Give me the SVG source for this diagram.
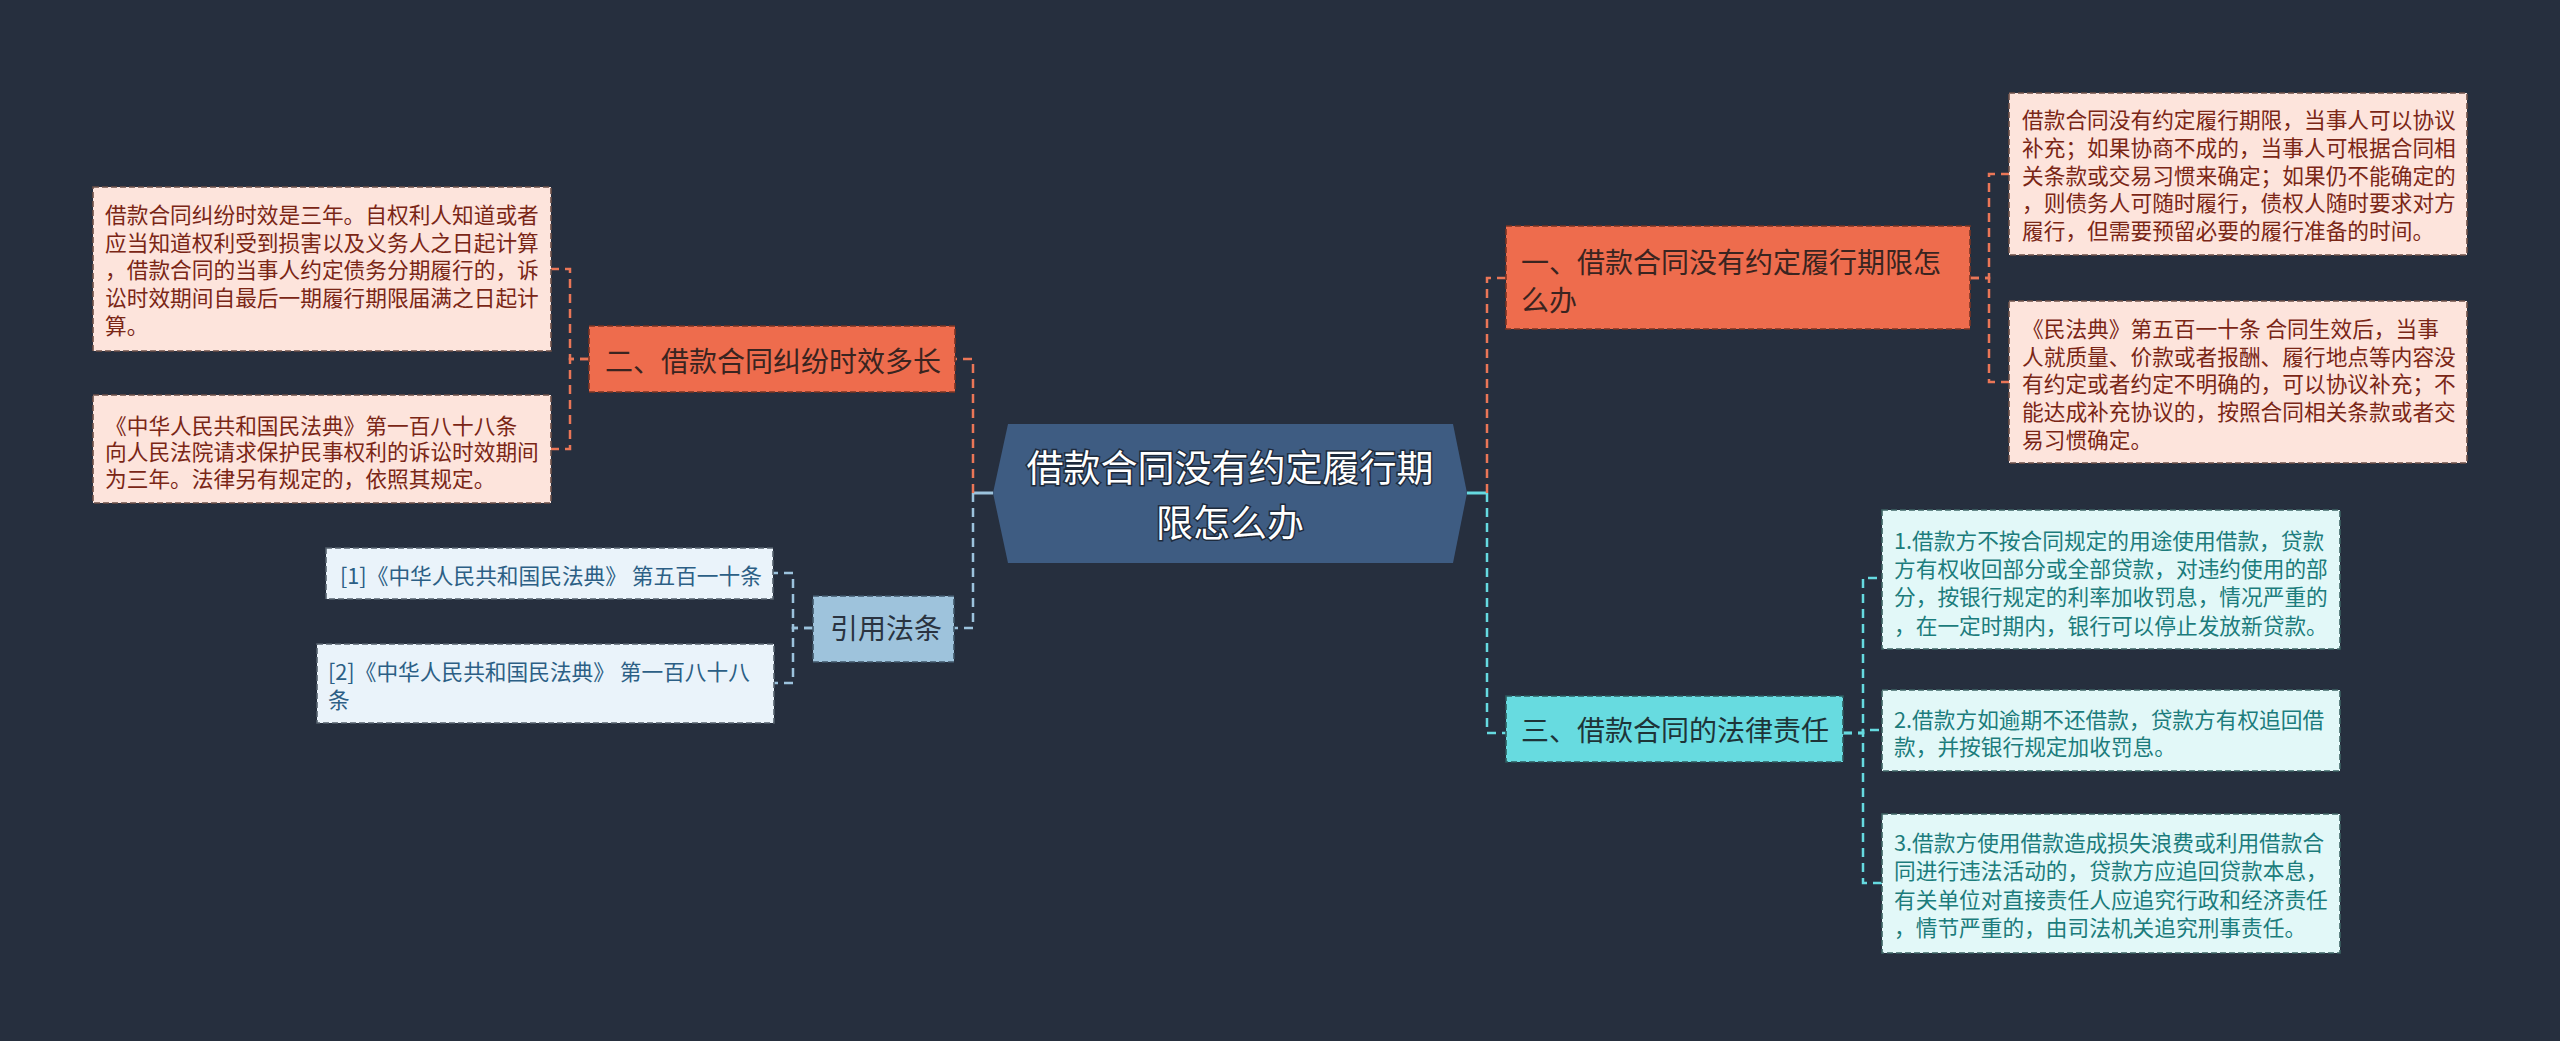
<svg xmlns="http://www.w3.org/2000/svg" width="2560" height="1041" viewBox="0 0 2560 1041">
<style>
text{font-family:"Noto Sans CJK SC","Noto Sans",sans-serif}
.leaf{font-size:21.7px}
.br{font-size:28px}
.bd{stroke-width:1.6;stroke-dasharray:6 3}
.c{fill:none;stroke-width:2.5;stroke-dasharray:9 6}
.or{stroke:#ea7657}
.lb{stroke:#9cc3dd}
.cy{stroke:#66dae0}
.pinkbox{fill:#fde4dc;stroke:#6e5048}
.pinktx{fill:#7a2616}
.orbox{fill:#ee6c4d;stroke:#7a3423}
.blbox{fill:#eaf3fa;stroke:#55626e}
.bltx{fill:#2c5f85}
.cybox{fill:#e2f8f8;stroke:#3e6464}
.cytx{fill:#1c7c7c}
</style>
<rect width="2560" height="1041" fill="#262f3e"/>
<g id="connectors">
<path d="M993,493 H973" stroke="#9cc3dd" stroke-width="3" fill="none"/>
<path class="c or" d="M973,493 V359 H955"/>
<path class="c lb" d="M973,493 V628 H954"/>
<path class="c or" d="M589,359 H570 V269 H551"/>
<path class="c or" d="M589,359 H570 V449 H551"/>
<path class="c lb" d="M813,628 H793 V573 H773"/>
<path class="c lb" d="M813,628 H793 V683 H774"/>
<path d="M1467,493 H1487" stroke="#66dae0" stroke-width="3" fill="none"/>
<path class="c or" d="M1487,493 V278 H1506"/>
<path class="c cy" d="M1487,493 V733 H1506"/>
<path class="c or" d="M1970,278 H1989 V174 H2009"/>
<path class="c or" d="M1970,278 H1989 V382 H2009"/>
<path class="c cy" d="M1843,733 H1863 V578 H1882"/>
<path class="c cy" d="M1843,733 H1863 V730 H1882"/>
<path class="c cy" d="M1843,733 H1863 V883 H1882"/>
</g>
<g id="root">
<polygon points="993,493 1008,424 1453,424 1467,493 1453,563 1008,563" fill="#3e5c82"/>
<text x="1230" y="482" font-size="37" text-anchor="middle" fill="#ffffff" stroke="#1e2b3c" stroke-width="3" paint-order="stroke">借款合同没有约定履行期</text>
<text x="1230" y="537" font-size="37" text-anchor="middle" fill="#ffffff" stroke="#1e2b3c" stroke-width="3" paint-order="stroke">限怎么办</text>
</g>
<g id="n1">
<rect class="orbox bd" x="1506" y="226" width="464" height="103"/>
<text class="br" x="1521" y="273" fill="#3a2420">一、借款合同没有约定履行期限怎</text>
<text class="br" x="1521" y="311" fill="#3a2420">么办</text>
</g>
<g id="n1a">
<rect class="pinkbox bd" x="2009" y="93" width="458" height="162"/>
<text class="leaf pinktx" x="2022" y="128">借款合同没有约定履行期限，当事人可以协议</text>
<text class="leaf pinktx" x="2022" y="156">补充；如果协商不成的，当事人可根据合同相</text>
<text class="leaf pinktx" x="2022" y="184">关条款或交易习惯来确定；如果仍不能确定的</text>
<text class="leaf pinktx" x="2022" y="211">，则债务人可随时履行，债权人随时要求对方</text>
<text class="leaf pinktx" x="2022" y="239">履行，但需要预留必要的履行准备的时间。</text>
</g>
<g id="n1b">
<rect class="pinkbox bd" x="2009" y="301" width="458" height="162"/>
<text class="leaf pinktx" x="2022" y="337">《民法典》第五百一十条 合同生效后，当事</text>
<text class="leaf pinktx" x="2022" y="365">人就质量、价款或者报酬、履行地点等内容没</text>
<text class="leaf pinktx" x="2022" y="392">有约定或者约定不明确的，可以协议补充；不</text>
<text class="leaf pinktx" x="2022" y="420">能达成补充协议的，按照合同相关条款或者交</text>
<text class="leaf pinktx" x="2022" y="448">易习惯确定。</text>
</g>
<g id="n2">
<rect class="orbox bd" x="589" y="326" width="366" height="66"/>
<text class="br" x="605" y="372" fill="#3a2420">二、借款合同纠纷时效多长</text>
</g>
<g id="n2a">
<rect class="pinkbox bd" x="93" y="187" width="458" height="164"/>
<text class="leaf pinktx" x="105" y="223">借款合同纠纷时效是三年。自权利人知道或者</text>
<text class="leaf pinktx" x="105" y="251">应当知道权利受到损害以及义务人之日起计算</text>
<text class="leaf pinktx" x="105" y="278">，借款合同的当事人约定债务分期履行的，诉</text>
<text class="leaf pinktx" x="105" y="306">讼时效期间自最后一期履行期限届满之日起计</text>
<text class="leaf pinktx" x="105" y="334">算。</text>
</g>
<g id="n2b">
<rect class="pinkbox bd" x="93" y="395" width="458" height="108"/>
<text class="leaf pinktx" x="105" y="434">《中华人民共和国民法典》第一百八十八条</text>
<text class="leaf pinktx" x="105" y="460">向人民法院请求保护民事权利的诉讼时效期间</text>
<text class="leaf pinktx" x="105" y="487">为三年。法律另有规定的，依照其规定。</text>
</g>
<g id="n3">
<rect class="bd" x="813" y="596" width="141" height="66" fill="#9ec3dc" stroke="#3f5668"/>
<text class="br" x="830" y="639" font-size="27" fill="#2a3340">引用法条</text>
</g>
<g id="n3a">
<rect class="blbox bd" x="326" y="548" width="447" height="51"/>
<text class="leaf bltx" x="340" y="584">[1]《中华人民共和国民法典》 第五百一十条</text>
</g>
<g id="n3b">
<rect class="blbox bd" x="317" y="644" width="457" height="79"/>
<text class="leaf bltx" x="328" y="680">[2]《中华人民共和国民法典》 第一百八十八</text>
<text class="leaf bltx" x="328" y="708">条</text>
</g>
<g id="n4">
<rect class="bd" x="1506" y="696" width="337" height="66" fill="#67dbe0" stroke="#2d5a5e"/>
<text class="br" x="1521" y="741" fill="#1e3438">三、借款合同的法律责任</text>
</g>
<g id="n4a">
<rect class="cybox bd" x="1882" y="510" width="458" height="139"/>
<text class="leaf cytx" x="1894" y="549">1.借款方不按合同规定的用途使用借款，贷款</text>
<text class="leaf cytx" x="1894" y="577">方有权收回部分或全部贷款，对违约使用的部</text>
<text class="leaf cytx" x="1894" y="605">分，按银行规定的利率加收罚息，情况严重的</text>
<text class="leaf cytx" x="1894" y="634">，在一定时期内，银行可以停止发放新贷款。</text>
</g>
<g id="n4b">
<rect class="cybox bd" x="1882" y="690" width="458" height="81"/>
<text class="leaf cytx" x="1894" y="728">2.借款方如逾期不还借款，贷款方有权追回借</text>
<text class="leaf cytx" x="1894" y="755">款，并按银行规定加收罚息。</text>
</g>
<g id="n4c">
<rect class="cybox bd" x="1882" y="814" width="458" height="139"/>
<text class="leaf cytx" x="1894" y="851">3.借款方使用借款造成损失浪费或利用借款合</text>
<text class="leaf cytx" x="1894" y="879">同进行违法活动的，贷款方应追回贷款本息，</text>
<text class="leaf cytx" x="1894" y="908">有关单位对直接责任人应追究行政和经济责任</text>
<text class="leaf cytx" x="1894" y="936">，情节严重的，由司法机关追究刑事责任。</text>
</g>
</svg>
